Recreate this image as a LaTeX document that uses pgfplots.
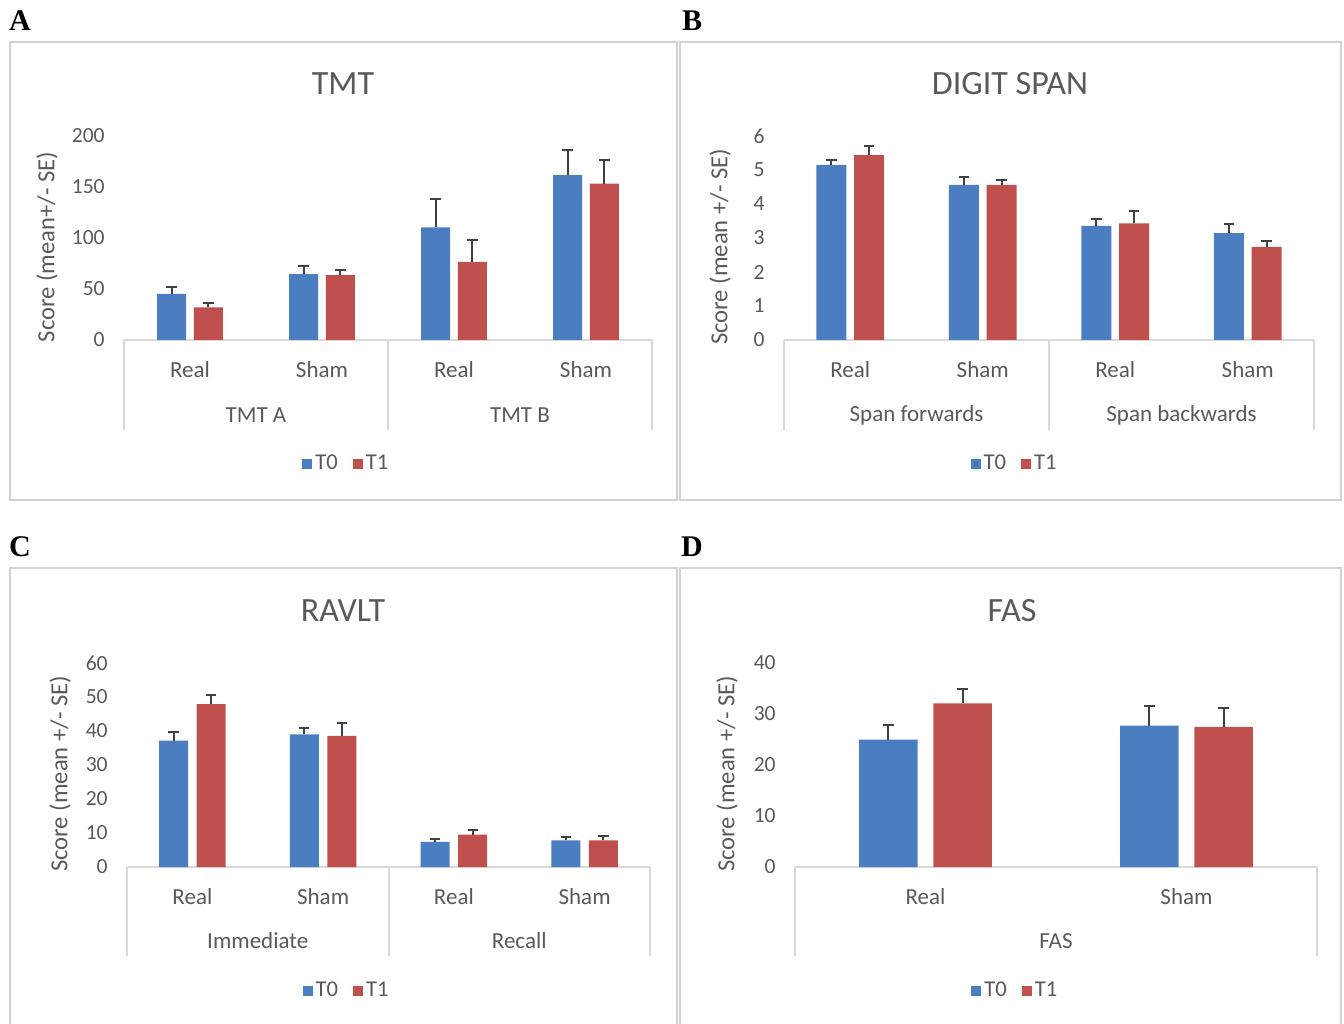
\documentclass[border=0pt]{standalone}
\usepackage{pgfplots}
\pgfplotsset{compat=1.18}
\usepackage{fontspec}
\setmainfont{Carlito}
\newfontfamily\letterfont{Liberation Serif}
\definecolor{tblue}{RGB}{74,126,193}
\definecolor{tred}{RGB}{192,80,77}
\definecolor{txtgray}{RGB}{89,89,89}
\definecolor{linegray}{RGB}{217,217,217}
\definecolor{boxgray}{RGB}{210,210,210}
\definecolor{errgray}{RGB}{64,64,64}

\pgfplotsset{
  panel/.style={
    scale only axis, anchor=south west, clip=false,
    ymin=0, xmin=-0.5,
    axis x line=bottom, axis y line=left, axis line style={-},
    x axis line style={linegray, line width=1pt},
    y axis line style={draw=none},
    xtick style={draw=none}, ytick style={draw=none},
    xtick={0,1,2,3},
    tick label style={font=\fontsize{10.8}{13}\selectfont, text=txtgray},
    /pgf/number format/assume math mode=true,
    yticklabel style={xshift=-4pt},
    xticklabel style={anchor=center, yshift=-12.5pt, font=\fontsize{11.5}{13}\selectfont},
    ylabel style={anchor=center, font=\fontsize{12.3}{14}\selectfont, text=txtgray},
    legend columns=-1,
    legend style={draw=none, anchor=center, font=\fontsize{11.3}{13}\selectfont, text=txtgray,
      nodes={inner xsep=1.5pt, inner ysep=0pt},
      /tikz/every even column/.append style={column sep=6pt}},
  },
  errs/.style={/pgfplots/error bars/y dir=plus, /pgfplots/error bars/y explicit,
      /pgfplots/error bars/error bar style={errgray, line width=1pt},
      /pgfplots/error bars/error mark options={rotate=90, errgray, line width=1pt, mark size=2.6pt}},
  sq/.style={legend image code/.code={\fill[##1] (0pt,-2.5pt) rectangle (5pt,2.5pt);}},
  t0/.style={ybar, bar shift=0pt, fill=tblue, draw=none, sq, errs},
  t1/.style={ybar, bar shift=0pt, fill=tred, draw=none, sq, errs},
}

\begin{document}
\begin{tikzpicture}
\useasboundingbox (0,0) rectangle (672pt,511.5pt);

% panel frames
\draw[boxgray, line width=1.2pt] (5pt,490.5pt) rectangle (338.5pt,261.5pt);
\draw[boxgray, line width=1.2pt] (340pt,490.5pt) rectangle (670.5pt,261.5pt);
\draw[boxgray, line width=1.2pt] (5pt,227.5pt) rectangle (338.5pt,-5pt);
\draw[boxgray, line width=1.2pt] (340pt,227.5pt) rectangle (670.5pt,-5pt);

% panel letters
\node[font=\letterfont\bfseries\fontsize{15}{17}\selectfont] at (10pt,501pt) {A};
\node[font=\letterfont\bfseries\fontsize{15}{17}\selectfont] at (346pt,501pt) {B};
\node[font=\letterfont\bfseries\fontsize{15}{17}\selectfont] at (10pt,238pt) {C};
\node[font=\letterfont\bfseries\fontsize{15}{17}\selectfont] at (346pt,238pt) {D};

% titles
\node[font=\fontsize{17}{20}\selectfont, text=txtgray] at (171.5pt,469.5pt) {TMT};
\node[font=\fontsize{17}{20}\selectfont, text=txtgray] at (505pt,469.5pt) {DIGIT SPAN};
\node[font=\fontsize{17}{20}\selectfont, text=txtgray] at (171.5pt,206pt) {RAVLT};
\node[font=\fontsize{17}{20}\selectfont, text=txtgray] at (506pt,206pt) {FAS};

% ---------------- A: TMT
\begin{axis}[panel, at={(62pt,341.5pt)}, width=264pt, height=102pt,
  xmax=3.5, ymax=200, ytick={0,50,100,150,200},
  xticklabels={Real,Sham,Real,Sham},
  ylabel={Score (mean+/- SE)},
  ylabel style={at={([xshift=-38.5pt]rel axis cs:0,0.456)}},
  legend style={at={(0.422,-0.608)}}]
\addplot[t0, bar width=14.5pt] coordinates {
  (-0.14,45.2) +- (0,6.6)
  (0.86,64.6) +- (0,8.2)
  (1.86,110.5) +- (0,27.9)
  (2.86,161.6) +- (0,24.6)};
\addplot[t1, bar width=14.5pt] coordinates {
  (0.14,32.1) +- (0,4.0)
  (1.14,63.6) +- (0,5.3)
  (2.14,76.7) +- (0,21.7)
  (3.14,153.4) +- (0,23.3)};
\legend{T0,T1}
\draw[linegray, line width=1pt] (axis cs:-0.5,0) -- ++(0pt,-45pt);
\draw[linegray, line width=1pt] (axis cs:1.5,0) -- ++(0pt,-45pt);
\draw[linegray, line width=1pt] (axis cs:3.5,0) -- ++(0pt,-45pt);
\node[font=\fontsize{11.5}{13}\selectfont, text=txtgray, yshift=-37.5pt] at (axis cs:0.5,0) {TMT A};
\node[font=\fontsize{11.5}{13}\selectfont, text=txtgray, yshift=-37.5pt] at (axis cs:2.5,0) {TMT B};
\end{axis}

% ---------------- B: DIGIT SPAN
\begin{axis}[panel, at={(392pt,341.5pt)}, width=265pt, height=102pt,
  xmax=3.5, ymax=6, ytick={0,1,2,3,4,5,6},
  xticklabels={Real,Sham,Real,Sham},
  ylabel={Score (mean +/- SE)},
  ylabel style={at={([xshift=-32pt]rel axis cs:0,0.456)}},
  legend style={at={(0.436,-0.608)}}]
\addplot[t0, bar width=15pt] coordinates {
  (-0.142,5.15) +- (0,0.15)
  (0.858,4.56) +- (0,0.24)
  (1.858,3.36) +- (0,0.20)
  (2.858,3.14) +- (0,0.27)};
\addplot[t1, bar width=15pt] coordinates {
  (0.142,5.44) +- (0,0.26)
  (1.142,4.56) +- (0,0.16)
  (2.142,3.43) +- (0,0.35)
  (3.142,2.74) +- (0,0.17)};
\legend{T0,T1}
\draw[linegray, line width=1pt] (axis cs:-0.5,0) -- ++(0pt,-45pt);
\draw[linegray, line width=1pt] (axis cs:1.5,0) -- ++(0pt,-45pt);
\draw[linegray, line width=1pt] (axis cs:3.5,0) -- ++(0pt,-45pt);
\node[font=\fontsize{11.5}{13}\selectfont, text=txtgray, yshift=-37.5pt] at (axis cs:0.5,0) {Span forwards};
\node[font=\fontsize{11.5}{13}\selectfont, text=txtgray, yshift=-37.5pt] at (axis cs:2.5,0) {Span backwards};
\end{axis}

% ---------------- C: RAVLT
\begin{axis}[panel, at={(63.5pt,78pt)}, width=261.5pt, height=102pt,
  xmax=3.5, ymax=60, ytick={0,10,20,30,40,50,60},
  xticklabels={Real,Sham,Real,Sham},
  ylabel={Score (mean +/- SE)},
  ylabel style={at={([xshift=-33.5pt]rel axis cs:0,0.456)}},
  legend style={at={(0.421,-0.608)}}]
\addplot[t0, bar width=14.5pt] coordinates {
  (-0.144,37.2) +- (0,2.4)
  (0.856,39.0) +- (0,1.9)
  (1.856,7.4) +- (0,0.9)
  (2.856,7.8) +- (0,0.9)};
\addplot[t1, bar width=14.5pt] coordinates {
  (0.144,47.9) +- (0,2.6)
  (1.144,38.6) +- (0,3.9)
  (2.144,9.5) +- (0,1.3)
  (3.144,7.8) +- (0,1.2)};
\legend{T0,T1}
\draw[linegray, line width=1pt] (axis cs:-0.5,0) -- ++(0pt,-44.5pt);
\draw[linegray, line width=1pt] (axis cs:1.5,0) -- ++(0pt,-44.5pt);
\draw[linegray, line width=1pt] (axis cs:3.5,0) -- ++(0pt,-44.5pt);
\node[font=\fontsize{11.5}{13}\selectfont, text=txtgray, yshift=-37pt] at (axis cs:0.5,0) {Immediate};
\node[font=\fontsize{11.5}{13}\selectfont, text=txtgray, yshift=-37pt] at (axis cs:2.5,0) {Recall};
\end{axis}

% ---------------- D: FAS
\begin{axis}[panel, at={(397.5pt,78pt)}, width=261pt, height=102pt,
  xmax=1.5, xtick={0,1}, ymax=40, ytick={0,10,20,30,40},
  xticklabels={Real,Sham},
  ylabel={Score (mean +/- SE)},
  ylabel style={at={([xshift=-34pt]rel axis cs:0,0.456)}},
  legend style={at={(0.423,-0.608)}}]
\addplot[t0, bar width=29.2pt] coordinates {
  (-0.142,25.0) +- (0,2.9)
  (0.858,27.7) +- (0,3.8)};
\addplot[t1, bar width=29.2pt] coordinates {
  (0.142,32.1) +- (0,2.8)
  (1.142,27.5) +- (0,3.6)};
\legend{T0,T1}
\draw[linegray, line width=1pt] (axis cs:-0.5,0) -- ++(0pt,-44.5pt);
\draw[linegray, line width=1pt] (axis cs:1.5,0) -- ++(0pt,-44.5pt);
\node[font=\fontsize{11.5}{13}\selectfont, text=txtgray, yshift=-37pt] at (axis cs:0.5,0) {FAS};
\end{axis}
\end{tikzpicture}
\end{document}
